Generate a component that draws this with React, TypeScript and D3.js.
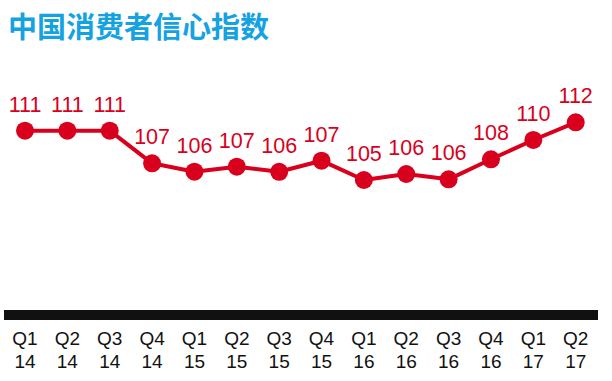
import React from "react";
import * as d3 from "d3";

const quarters = ["Q1", "Q2", "Q3", "Q4", "Q1", "Q2", "Q3", "Q4", "Q1", "Q2", "Q3", "Q4", "Q1", "Q2"];
const years = ["14", "14", "14", "14", "15", "15", "15", "15", "16", "16", "16", "16", "17", "17"];
const values = [111, 111, 111, 107.03, 106.01, 106.62, 106.0, 107.35, 105.0, 105.73, 105.08, 107.52, 109.87, 112.02];
const labels = [111, 111, 111, 107, 106, 107, 106, 107, 105, 106, 106, 108, 110, 112];
const title = "中国消费者信心指数";

const W = 612;
const H = 381;
const RED = "#d8001c";
const BLUE = "#14a2e2";

export default function App() {
  const idx = values.map((_, i) => String(i));
  const x = d3.scalePoint<string>().domain(idx).range([25, 575.7]).padding(0);
  const y = d3.scaleLinear().domain([105, 111]).range([180, 130.7]);
  const line = d3
    .line<number>()
    .x((_, i) => x(String(i)) as number)
    .y((d) => y(d));

  return (
    <svg
      width={W}
      height={H}
      style={{ position: "fixed", left: 0, top: 0, display: "block", background: "#fff" }}
    >
      <text
        x={8}
        y={37.5}
        fontFamily="'Noto Sans CJK SC', sans-serif"
        fontWeight={700}
        fontSize={29}
        fill={BLUE}
      >
        {title}
      </text>
      <path d={line(values) || ""} fill="none" stroke={RED} strokeWidth={4} strokeLinejoin="round" />
      {values.map((v, i) => (
        <circle key={"c" + i} cx={x(String(i))} cy={y(v)} r={9} fill={RED} />
      ))}
      {values.map((v, i) => (
        <text
          key={"l" + i}
          x={x(String(i))}
          y={y(v) - 19}
          textAnchor="middle"
          fontFamily="'Liberation Sans', Arial, sans-serif"
          fontSize={21.5}
          fill={RED}
        >
          {labels[i]}
        </text>
      ))}
      <rect x={4} y={310} width={594} height={10} fill="#111" />
      {quarters.map((q, i) => (
        <text
          key={"q" + i}
          x={x(String(i))}
          textAnchor="middle"
          fontFamily="'Liberation Sans', Arial, sans-serif"
          fontSize={19}
          fill="#111"
        >
          <tspan x={x(String(i))} y={345}>{q}</tspan>
          <tspan x={x(String(i))} y={368}>{years[i]}</tspan>
        </text>
      ))}
    </svg>
  );
}
